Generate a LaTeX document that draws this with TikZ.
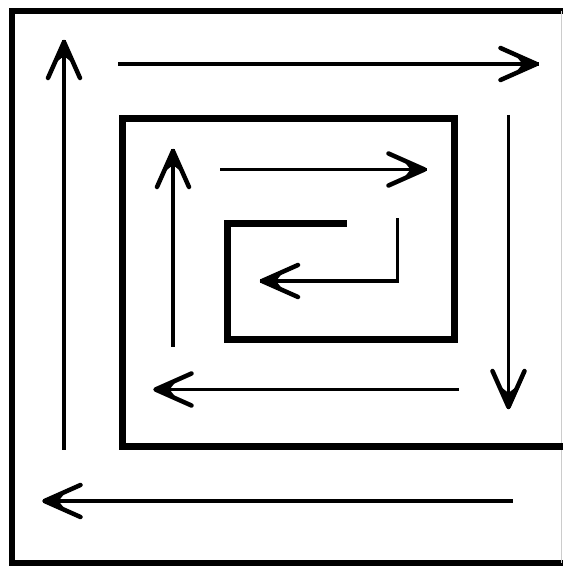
\documentclass[tikz,border=0pt]{standalone}
\usetikzlibrary{decorations.markings}
\tikzset{
  wall/.style={line width=7pt},
  frame/.style={line width=6pt},
  route/.style={line width=3.5pt,postaction={decorate},
    decoration={markings,mark=at position 1 with {
      \draw[line width=4.5pt,line cap=round,line join=round]
        (-38,16) -- (-2,0) -- (-38,-16);
      \fill (0,0) -- (-26,12.5) -- (-16,0) -- (-26,-12.5) -- cycle;
    }}},
}
\begin{document}
\begin{tikzpicture}[x=1pt,y=-1pt]
\useasboundingbox (0,0) rectangle (563,569);

% outer frame
\draw[frame] (563,11.5) -- (11.5,11.5) -- (11.5,562.5) -- (563,562.5);
\draw[gray!40,line width=1pt] (561,11.5) -- (561,562.5);

% spiral wall
\draw[wall] (563,446) -- (122.5,446) -- (122.5,119) -- (454,119)
  -- (454,339.5) -- (227,339.5) -- (227,223) -- (346.5,223);

% outer round
\draw[route] (64,449.5) -- (64,40);
\draw[route] (118,64) -- (538.5,64);
\draw[route] (508.5,115) -- (508.5,409);
\draw[route] (512.5,501) -- (42.5,501);

% inner round
\draw[route] (173,346.5) -- (173,149);
\draw[route] (220,169.5) -- (426.5,169.5);
\draw[route] (459,389.5) -- (153.5,389.5);
\draw[route] (397.5,218) -- (397.5,281) -- (260,281);
\end{tikzpicture}
\end{document}
